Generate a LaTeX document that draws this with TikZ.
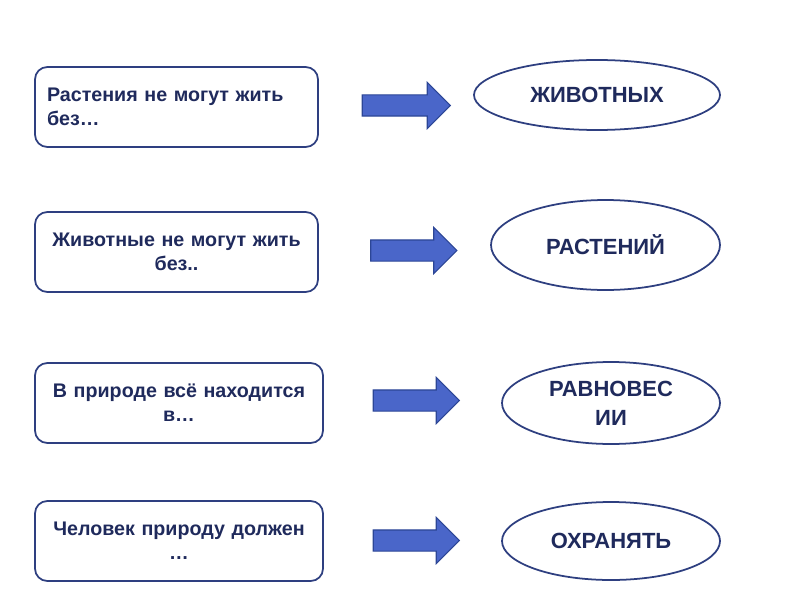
\documentclass[tikz,border=0pt]{standalone}
\usepackage{fontspec}
\setmainfont{Liberation Sans}
\usepackage{xcolor}
\usetikzlibrary{shapes.geometric,shapes.arrows,positioning}
\definecolor{InkNavy}{HTML}{1F2A5C}
\definecolor{EdgeNavy}{HTML}{2E3F80}
\definecolor{ArrowBlue}{HTML}{4A66C9}
\definecolor{ArrowEdge}{HTML}{2C4696}

\begin{document}
\begin{tikzpicture}[
  qbox/.style={draw=EdgeNavy,line width=1pt,rounded corners=7pt,fill=white,minimum height=16mm,inner xsep=0pt,text width=51.8mm,align=center,font=\bfseries\fontsize{11.2}{13.6}\selectfont,text=InkNavy},
  answer/.style={ellipse,draw=EdgeNavy,line width=1pt,fill=white,inner sep=0pt,align=center,font=\bfseries\fontsize{12.5}{16.4}\selectfont,text=InkNavy},
  blockarr/.style={single arrow,draw=ArrowEdge,fill=ArrowBlue,line width=0.6pt,inner sep=0pt,inner ysep=0.2cm,minimum height=17.2mm,single arrow head extend=0.25cm}
]
\useasboundingbox (0,0) rectangle (16,12);
% questions
\node[qbox,minimum width=56.6mm,align=left] (q1) at (3.53,9.86) {Растения не могут жить\\без…};
\node[qbox,minimum width=56.6mm] (q2) at (3.53,6.96) {Животные не могут жить\\без..};
\node[qbox,minimum width=57.6mm] (q3) at (3.58,3.94) {В природе всё находится\\в…};
\node[qbox,minimum width=57.6mm] (q4) at (3.58,1.18) {Человек природу должен\\…};
% arrows
\node[blockarr,minimum height=17.6mm] (a1) at (8.02,9.89) {};
\node[blockarr] (a2) at (8.17,6.99) {};
\node[blockarr] (a3) at (8.22,3.99) {};
\node[blockarr] (a4) at (8.22,1.19) {};
% answers
\node[answer,minimum width=49.2mm,minimum height=14mm] (r1) at (11.94,10.10) {ЖИВОТНЫХ};
\node[answer,minimum width=45.8mm,minimum height=18mm] (r2) at (12.11,7.10) {РАСТЕНИЙ};
\node[answer,minimum width=43.6mm,minimum height=16.4mm] (r3) at (12.22,3.94) {РАВНОВЕС\\ИИ};
\node[answer,minimum width=43.6mm,minimum height=15.6mm] (r4) at (12.22,1.18) {ОХРАНЯТЬ};
\end{tikzpicture}
\end{document}
